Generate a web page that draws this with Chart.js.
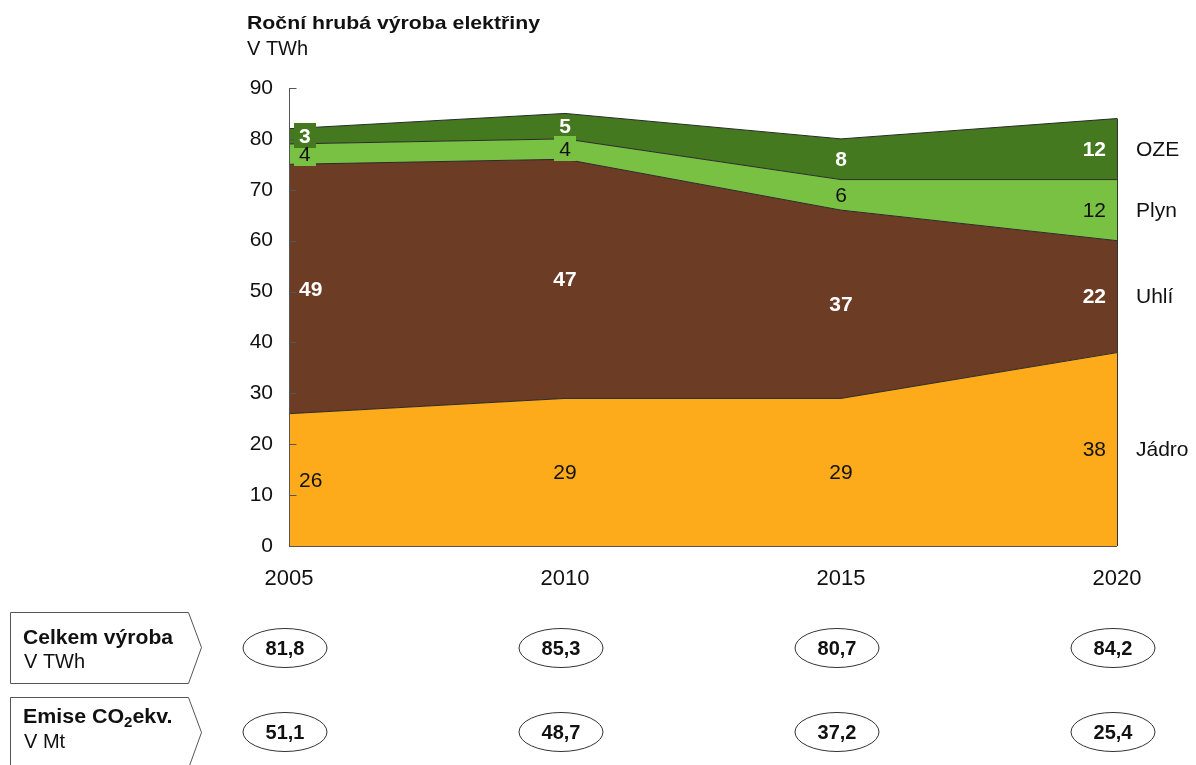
<!DOCTYPE html>
<html lang="cs">
<head>
<meta charset="utf-8">
<script src="https://cdn.jsdelivr.net/npm/chart.js@4.4.1/dist/chart.umd.min.js"></script>
<style>
  html, body { margin: 0; padding: 0; background: #ffffff; }
  #wrap { width: 1196px; height: 765px; position: relative; }
</style>
</head>
<body>
<div id="wrap"><canvas id="c" width="1196" height="765"></canvas></div>
<script>
// Roční hrubá výroba elektřiny podle zdroje (TWh)
const years = ['2005', '2010', '2015', '2020'];
const jadro = [26, 29, 29, 38];
const uhli  = [49, 47, 37, 22];
const plyn  = [4, 4, 6, 12];
const oze   = [3, 5, 8, 12];
const seriesNames = ['Jádro', 'Uhlí', 'Plyn', 'OZE'];

// Souhrnné řádky pod grafem
const celkemVyroba = [81.8, 85.3, 80.7, 84.2];
const emiseCO2 = [51.1, 48.7, 37.2, 25.4];

const yMin = 0, yMax = 90, yStep = 10;

const colors = ['#FDAB1B', '#6D3C24', '#79C143', '#44791F'];
const labelStyle = [
  { color: '#111111', weight: 'normal' },
  { color: '#ffffff', weight: 'bold' },
  { color: '#111111', weight: 'normal' },
  { color: '#ffffff', weight: 'bold' }
];
const FONT = '"Liberation Sans", Arial, sans-serif';

const fmt = v => v.toFixed(1).replace('.', ',');

// draws text stretched horizontally to a given width
function fillTextWidth(ctx, text, x, y, width) {
  const w = ctx.measureText(text).width;
  ctx.save();
  ctx.translate(x, y);
  ctx.scale(width / w, 1);
  ctx.fillText(text, 0, 0);
  ctx.restore();
}

const overlay = {
  id: 'overlay',
  afterDatasetsDraw(chart) {
    const ctx = chart.ctx;
    const xs = chart.scales.x, ys = chart.scales.y;
    const area = chart.chartArea;
    const series = chart.data.datasets.map(d => d.data);

    ctx.save();
    // right edge of the stacked areas
    const lastTotal = series.reduce((s, d) => s + d[years.length - 1], 0);
    ctx.strokeStyle = '#333333';
    ctx.lineWidth = 1;
    ctx.beginPath();
    ctx.moveTo(Math.round(xs.getPixelForValue(years.length - 1)) + 0.5, ys.getPixelForValue(0));
    ctx.lineTo(Math.round(xs.getPixelForValue(years.length - 1)) + 0.5, ys.getPixelForValue(lastTotal));
    ctx.stroke();

    // axis lines and inward tick marks
    const ax = Math.round(area.left) + 0.5;
    ctx.strokeStyle = '#555555';
    ctx.beginPath();
    ctx.moveTo(ax, area.top);
    ctx.lineTo(ax, area.bottom);
    ctx.moveTo(area.left, Math.round(area.bottom) + 0.5);
    ctx.lineTo(area.right, Math.round(area.bottom) + 0.5);
    for (let v = yMin; v <= yMax; v += yStep) {
      const y = Math.round(ys.getPixelForValue(v)) + 0.5;
      ctx.moveTo(ax, y);
      ctx.lineTo(ax + 7, y);
    }
    ctx.stroke();

    // value labels in the middle of each band
    const labels = [];
    for (let j = 0; j < years.length; j++) {
      let base = 0;
      const px = xs.getPixelForValue(j);
      for (let i = 0; i < series.length; i++) {
        const v = series[i][j];
        const yMid = ys.getPixelForValue(base + v / 2);
        let tx = px, align = 'center';
        if (j === 0) { tx = px + 10; align = 'left'; }
        else if (j === years.length - 1) { tx = px - 11; align = 'right'; }
        labels.push({ i, j, v, tx, yMid, align, text: String(v) });
        base += v;
      }
    }
    ctx.textBaseline = 'middle';
    // boxes behind labels of thin bands
    labels.sort((a, b) => a.i - b.i);
    for (const L of labels) {
      if (L.v >= 5) continue;
      const st = labelStyle[L.i];
      ctx.font = `${st.weight} 21px ${FONT}`;
      const w = ctx.measureText(L.text).width;
      let cx = L.tx;
      if (L.align === 'left') cx = L.tx + w / 2;
      else if (L.align === 'right') cx = L.tx - w / 2;
      ctx.fillStyle = colors[L.i];
      ctx.fillRect(Math.round(cx - 11), Math.round(L.yMid - 13), 22, 25);
    }
    for (const L of labels) {
      const st = labelStyle[L.i];
      ctx.font = `${st.weight} 21px ${FONT}`;
      ctx.fillStyle = st.color;
      ctx.textAlign = L.align;
      ctx.fillText(L.text, L.tx, L.yMid + 1);
    }

    // series names to the right of the last year
    {
      const j = years.length - 1;
      let base = 0;
      ctx.font = `21px ${FONT}`;
      ctx.fillStyle = '#111111';
      ctx.textAlign = 'left';
      for (let i = 0; i < series.length; i++) {
        const v = series[i][j];
        ctx.fillText(seriesNames[i], area.right + 19, ys.getPixelForValue(base + v / 2) + 1);
        base += v;
      }
    }
    ctx.restore();
  },
  afterDraw(chart) {
    const ctx = chart.ctx;
    const xs = chart.scales.x;
    ctx.save();
    ctx.fillStyle = '#111111';
    ctx.textBaseline = 'middle';
    ctx.textAlign = 'left';

    // title
    ctx.font = `bold 19px ${FONT}`;
    fillTextWidth(ctx, 'Roční hrubá výroba elektřiny', 247, 24, 293);
    ctx.font = `20px ${FONT}`;
    ctx.fillText('V TWh', 247, 49);

    // row headers (arrow-shaped boxes)
    const arrowBox = (top, bottom) => {
      const mid = (top + bottom) / 2;
      ctx.beginPath();
      ctx.moveTo(10.5, top + 0.5);
      ctx.lineTo(188.5, top + 0.5);
      ctx.lineTo(201.5, mid);
      ctx.lineTo(188.5, bottom + 0.5);
      ctx.lineTo(10.5, bottom + 0.5);
      ctx.closePath();
      ctx.strokeStyle = '#555555';
      ctx.lineWidth = 1;
      ctx.stroke();
    };
    arrowBox(612, 683);
    arrowBox(697, 768);

    ctx.fillStyle = '#111111';
    ctx.font = `bold 20px ${FONT}`;
    fillTextWidth(ctx, 'Celkem výroba', 23, 638, 150);
    ctx.font = `20px ${FONT}`;
    ctx.fillText('V TWh', 24, 662);

    // "Emise CO₂ekv." with a subscript two, slightly widened
    ctx.save();
    ctx.translate(23, 0);
    ctx.scale(1.07, 1);
    ctx.font = `bold 20px ${FONT}`;
    let x = 0;
    ctx.fillText('Emise CO', x, 717);
    x += ctx.measureText('Emise CO').width;
    ctx.font = `bold 14px ${FONT}`;
    ctx.fillText('2', x, 723);
    x += ctx.measureText('2').width;
    ctx.font = `bold 20px ${FONT}`;
    ctx.fillText('ekv.', x, 717);
    ctx.restore();
    ctx.font = `20px ${FONT}`;
    ctx.fillText('V Mt', 24, 742);

    // value ellipses under each year
    const ellipseRow = (values, cy) => {
      values.forEach((v, j) => {
        const cx = xs.getPixelForValue(j) - 4;
        ctx.beginPath();
        ctx.ellipse(cx, cy, 42, 19.5, 0, 0, Math.PI * 2);
        ctx.strokeStyle = '#333333';
        ctx.lineWidth = 1;
        ctx.stroke();
        ctx.fillStyle = '#111111';
        ctx.font = `bold 20px ${FONT}`;
        ctx.textAlign = 'center';
        ctx.fillText(fmt(v), cx, cy + 1);
      });
    };
    ellipseRow(celkemVyroba, 648);
    ellipseRow(emiseCO2, 732);
    ctx.restore();
  }
};

const seriesData = [jadro, uhli, plyn, oze];

new Chart(document.getElementById('c'), {
  type: 'line',
  data: {
    labels: years,
    datasets: seriesData.map((d, i) => ({
      label: seriesNames[i],
      data: d,
      backgroundColor: colors[i],
      borderColor: '#2a2a2a',
      borderWidth: 1,
      pointRadius: 0,
      tension: 0,
      fill: i === 0 ? 'origin' : '-1'
    }))
  },
  options: {
    responsive: false,
    animation: false,
    devicePixelRatio: 1,
    layout: { padding: { left: 0, top: 88, right: 79, bottom: 169 } },
    plugins: {
      legend: { display: false },
      title: { display: false },
      tooltip: { enabled: false }
    },
    scales: {
      x: {
        type: 'category',
        offset: false,
        grid: { display: false, drawTicks: false },
        border: { display: false },
        ticks: {
          color: '#111111',
          font: { family: FONT, size: 22 },
          padding: 20,
          maxRotation: 0,
          autoSkip: false
        },
        afterFit(s) { s.height = 50; }
      },
      y: {
        stacked: true,
        min: yMin,
        max: yMax,
        grid: { display: false, drawTicks: false },
        border: { display: false },
        ticks: {
          stepSize: yStep,
          color: '#111111',
          font: { family: FONT, size: 21 },
          padding: 16
        },
        afterFit(s) { s.width = 289; }
      }
    }
  },
  plugins: [overlay]
});
</script>
</body>
</html>
